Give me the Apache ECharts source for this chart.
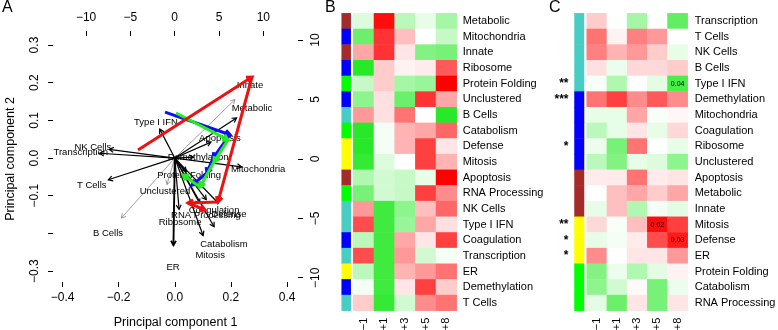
<!DOCTYPE html>
<html>
<head>
<meta charset="utf-8">
<script src="https://cdn.jsdelivr.net/npm/echarts@6/dist/echarts.min.js"></script>
<style>
html, body { margin: 0; padding: 0; background: #fff; }
#main { width: 778px; height: 330px; }
</style>
</head>
<body>
<div id="main"></div>
<script>
var FONT = 'Liberation Sans';

// panel A: loadings on PC1 / PC2 (label sits on the loading, arrow goes to 0.8 of it)
var loadNames = ['Innate', 'Metabolic', 'Type I IFN', 'Apoptosis', 'NK Cells', 'Transcription', 'Demethylation',
  'Mitochondria', 'Protein Folding', 'T Cells', 'Unclustered', 'B Cells', 'RNA Processing', 'Coagulation',
  'Defense', 'Ribosome', 'Catabolism', 'Mitosis', 'ER'];
var loadPC1 = [0.268, 0.275, -0.067, 0.161, -0.292, -0.335, 0.083, 0.297, 0.051, -0.296, -0.035, -0.238, 0.111, 0.140, 0.193, 0.019, 0.175, 0.126, -0.006];
var loadPC2 = [0.194, 0.133, 0.096, 0.053, 0.029, 0.016, 0.003, -0.029, -0.045, -0.072, -0.088, -0.199, -0.151, -0.138, -0.149, -0.170, -0.228, -0.257, -0.289];
var loadWeight = [0, 1, 1, 1, 1, 1, 1, 1, 1, 1, 0, 0, 1, 1, 1, 1, 1, 1, 2]; // 0 thin grey, 1 black, 2 thick

// cluster trajectories over the time points (score axes, top / right)
var blueX = [-1.09, 6.24, 4.32, 3.64, 1.95];
var blueY = [3.94, 2.03, 0.07, -1.19, -2.20];
var greenX = [0.15, 6.01, 4.43, 2.85, 0.94];
var greenY = [3.86, 1.60, -0.27, -2.36, -1.36];
var redX = [-4.14, 8.72, 4.88, 1.50, 3.42];
var redY = [0.74, 6.89, -3.63, -3.71, -4.30];

var times = ['\u22121', '+1', '+3', '+5', '+8'];

// panel B
var rowsB = ['Metabolic', 'Mitochondria', 'Innate', 'Ribosome', 'Protein Folding', 'Unclustered', 'B Cells',
  'Catabolism', 'Defense', 'Mitosis', 'Apoptosis', 'RNA Processing', 'NK Cells', 'Type I IFN', 'Coagulation',
  'Transcription', 'ER', 'Demethylation', 'T Cells'];
var clusterB = [2, 1, 2, 1, 4, 1, 0, 4, 3, 3, 2, 4, 0, 0, 1, 0, 3, 1, 0];
var valsB = [
  [-0.15, 0.95, -0.3, -0.1, -0.4],
  [-0.65, 0.8, 0.25, 0, -0.25],
  [0.35, 0.8, 0.1, -0.55, -0.6],
  [-0.95, 0.2, 0.05, 0.08, 0.65],
  [-0.25, 0.2, -0.4, -0.45, 1.0],
  [-0.5, 0.12, -0.65, 0.8, 0.35],
  [0.4, 0.12, 0.55, 0, -0.95],
  [-0.95, -0.05, 0.3, 0.35, 0.6],
  [-0.95, -0.05, 0.3, 0.75, 0.1],
  [-0.9, -0.15, 0, 0.75, 0.3],
  [-0.35, -0.2, -0.25, -0.1, 1.0],
  [-0.6, -0.2, -0.25, 0.75, 0.45],
  [0.4, -0.85, -0.5, 0.25, 0.6],
  [0.7, -0.85, -0.45, 0.35, 0.12],
  [-0.3, -0.85, 0.35, 0.1, 0.75],
  [0.7, -0.85, 0.4, -0.2, -0.05],
  [-0.3, -0.85, 0.3, 0.4, 0.55],
  [-0.05, -0.85, 0.1, 0.75, 0.2],
  [0.2, -0.9, -0.2, 0.45, 0.55]
];

// panel C
var rowsC = ['Transcription', 'T Cells', 'NK Cells', 'B Cells', 'Type I IFN', 'Demethylation', 'Mitochondria',
  'Coagulation', 'Ribosome', 'Unclustered', 'Apoptosis', 'Metabolic', 'Innate', 'Mitosis', 'Defense', 'ER',
  'Protein Folding', 'Catabolism', 'RNA Processing'];
var clusterC = [0, 0, 0, 0, 0, 1, 1, 1, 1, 1, 2, 2, 2, 3, 3, 3, 4, 4, 4];
var starsC = ['', '', '', '', '**', '***', '', '', '*', '', '', '', '', '**', '*', '*', '', '', ''];
var valsC = [
  [0.2, 0, -0.4, 0, -0.7],
  [0.55, 0.05, 0.5, 0.4, 0],
  [0.5, 0.3, 0.4, 0.2, -0.1],
  [0.12, -0.08, 0.15, 0.15, 0.2],
  [-0.03, -0.35, 0, -0.12, -0.8],
  [0.55, 0.75, 0.45, 0.65, 0.45],
  [-0.1, -0.1, 0.35, -0.03, 0.03],
  [-0.3, -0.1, 0.1, -0.1, 0.15],
  [-0.08, -0.6, 0.55, 0, -0.1],
  [-0.3, -0.55, -0.1, -0.15, -0.5],
  [0.08, 0.08, 0.55, 0.08, 0.1],
  [0, 0.25, 0.35, 0.2, 0.35],
  [-0.1, 0.25, -0.35, -0.05, -0.12],
  [0.15, -0.03, 0.25, 0.95, 0.75],
  [-0.1, -0.05, 0.08, 0.7, 0.9],
  [0.45, 0, 0.1, 0.1, 0.4],
  [-0.55, -0.08, -0.35, -0.12, 0.05],
  [-0.5, -0.2, 0.02, -0.6, -0.08],
  [-0.12, -0.65, 0.1, -0.6, 0.1]
];
var annotRow = [4, 13, 14];
var annotCol = [4, 3, 4];
var annotText = ['0.04', '0.02', '0.03'];

function cells(vals) {
  var out = [];
  vals.forEach(function (r, i) { r.forEach(function (v, j) { out.push([j, i, v]); }); });
  return out;
}
function side(cl) {
  return cl.map(function (c, i) { return [0, i, c]; });
}
function trajSegs(xs, ys, k) {
  var out = [];
  for (var i = 0; i < xs.length - 1; i++) out.push([xs[i], ys[i], xs[i + 1], ys[i + 1], k]);
  return out;
}
function minusFmt(d) {
  return function (v) { return (v < 0 ? '\u2212' : '') + Math.abs(v).toFixed(d); };
}
function arrow(p0, p1, head, style) {
  var ang = Math.atan2(p1[1] - p0[1], p1[0] - p0[0]);
  var a1 = ang + Math.PI - Math.PI / 6, a2 = ang + Math.PI + Math.PI / 6;
  return {
    type: 'group',
    children: [
      { type: 'line', shape: { x1: p0[0], y1: p0[1], x2: p1[0], y2: p1[1] }, style: style },
      { type: 'polyline', shape: { points: [[p1[0] + head * Math.cos(a1), p1[1] + head * Math.sin(a1)], p1,
        [p1[0] + head * Math.cos(a2), p1[1] + head * Math.sin(a2)]] }, style: style }
    ]
  };
}

var chart = echarts.init(document.getElementById('main'));
var axisTxt = { color: '#000', fontFamily: FONT, fontSize: 12 };
var noLine = { show: false, onZero: false };
var top0 = 13.3, hgt = 297.4;

var option = {
  animation: false,
  backgroundColor: '#fff',
  graphic: [
    { type: 'text', left: 2, top: 0, style: { text: 'A', fontSize: 16, fontFamily: FONT, fill: '#000' } },
    { type: 'text', left: 325, top: 0, style: { text: 'B', fontSize: 16, fontFamily: FONT, fill: '#000' } },
    { type: 'text', left: 549, top: 0, style: { text: 'C', fontSize: 16, fontFamily: FONT, fill: '#000' } }
  ],
  grid: [
    { left: 53, top: 36, width: 245, height: 246, outerBoundsMode: 'none' },
    { left: 341.7, top: top0, width: 9, height: hgt, outerBoundsMode: 'none' },
    { left: 353.3, top: top0, width: 103.4, height: hgt, outerBoundsMode: 'none' },
    { left: 574.5, top: top0, width: 9.5, height: hgt, outerBoundsMode: 'none' },
    { left: 586.7, top: top0, width: 101, height: hgt, outerBoundsMode: 'none' }
  ],
  xAxis: [
    { type: 'value', gridIndex: 0, min: -0.434, max: 0.439, position: 'bottom',
      name: 'Principal component 1', nameLocation: 'middle', nameGap: 34,
      nameTextStyle: { color: '#000', fontFamily: FONT, fontSize: 12.5 },
      axisLine: noLine, splitLine: { show: false },
      axisTick: { show: true, length: 5, lineStyle: { color: '#000' }, customValues: [-0.4, -0.2, 0, 0.2, 0.4] },
      axisLabel: Object.assign({ margin: 10, customValues: [-0.4, -0.2, 0, 0.2, 0.4], formatter: minusFmt(1) }, axisTxt) },
    { type: 'value', gridIndex: 0, min: -13.73, max: 13.91, position: 'top',
      axisLine: noLine, splitLine: { show: false },
      axisTick: { show: true, length: 5, lineStyle: { color: '#000' }, customValues: [-10, -5, 0, 5, 10] },
      axisLabel: Object.assign({ margin: 12, customValues: [-10, -5, 0, 5, 10], formatter: minusFmt(0) }, axisTxt) },
    { type: 'category', gridIndex: 1, data: ['k'], show: false },
    { type: 'category', gridIndex: 2, data: times, axisLine: { show: false }, axisTick: { show: false },
      axisLabel: { rotate: 90, margin: 7, color: '#000', fontFamily: FONT, fontSize: 11 } },
    { type: 'category', gridIndex: 3, data: ['k'], show: false },
    { type: 'category', gridIndex: 4, data: times, axisLine: { show: false }, axisTick: { show: false },
      axisLabel: { rotate: 90, margin: 7, color: '#000', fontFamily: FONT, fontSize: 11 } }
  ],
  yAxis: [
    { type: 'value', gridIndex: 0, min: -0.329, max: 0.324, position: 'left',
      name: 'Principal component 2', nameLocation: 'middle', nameGap: 36,
      nameTextStyle: { color: '#000', fontFamily: FONT, fontSize: 12.5 },
      axisLine: noLine, splitLine: { show: false },
      axisTick: { show: true, length: 5, lineStyle: { color: '#000' }, customValues: [-0.3, -0.2, -0.1, 0, 0.1, 0.2, 0.3] },
      axisLabel: Object.assign({ rotate: 90, margin: 12, align: 'center', verticalAlign: 'bottom',
        customValues: [-0.3, -0.1, 0, 0.1, 0.2, 0.3], formatter: minusFmt(1) }, axisTxt) },
    { type: 'value', gridIndex: 0, min: -10.36, max: 10.34, position: 'right',
      axisLine: noLine, splitLine: { show: false },
      axisTick: { show: true, length: 5, lineStyle: { color: '#000' }, customValues: [-10, -5, 0, 5, 10] },
      axisLabel: Object.assign({ rotate: 90, margin: 12, align: 'center', verticalAlign: 'top',
        customValues: [-10, -5, 0, 5, 10], formatter: minusFmt(0) }, axisTxt) },
    { type: 'category', gridIndex: 1, data: rowsB, inverse: true, show: false },
    { type: 'category', gridIndex: 2, data: rowsB, inverse: true, position: 'right',
      axisLine: { show: false }, axisTick: { show: false },
      axisLabel: { margin: 6, color: '#000', fontFamily: FONT, fontSize: 11, align: 'left' } },
    { type: 'category', gridIndex: 3, data: rowsC, inverse: true, position: 'left',
      axisLine: { show: false }, axisTick: { show: false },
      axisLabel: { margin: 6, color: '#000', fontFamily: FONT, fontSize: 12, fontWeight: 'bold',
        formatter: function (v, i) { return starsC[i]; } } },
    { type: 'category', gridIndex: 4, data: rowsC, inverse: true, position: 'right',
      axisLine: { show: false }, axisTick: { show: false },
      axisLabel: { margin: 7, color: '#000', fontFamily: FONT, fontSize: 11, align: 'left' } }
  ],
  visualMap: [
    { type: 'continuous', show: false, min: -1, max: 1, seriesIndex: [4, 6], dimension: 2,
      inRange: { color: ['#1de81d', '#ffffff', '#ff0000'] } },
    { type: 'piecewise', show: false, seriesIndex: [3, 5], dimension: 2,
      pieces: [
        { value: 0, color: '#48cdc5' },
        { value: 1, color: '#0000ff' },
        { value: 2, color: '#a52a2a' },
        { value: 3, color: '#ffff00' },
        { value: 4, color: '#00ff00' }
      ] }
  ],
  series: [
    { type: 'custom', xAxisIndex: 0, yAxisIndex: 0, silent: true, z: 2,
      data: loadNames.map(function (n, i) { return [loadPC1[i], loadPC2[i], i]; }),
      renderItem: function (params, api) {
        var p = api.coord([api.value(0), api.value(1)]);
        return { type: 'text', x: p[0], y: p[1],
          style: { text: loadNames[api.value(2)], fill: '#000', fontSize: 9.5, fontFamily: FONT,
            align: 'center', verticalAlign: 'middle' } };
      } },
    { type: 'custom', xAxisIndex: 0, yAxisIndex: 0, silent: true, z: 3,
      data: loadNames.map(function (n, i) { return [loadPC1[i], loadPC2[i], loadWeight[i]]; }),
      renderItem: function (params, api) {
        var w = api.value(2);
        var p0 = api.coord([0, 0]);
        var p1 = api.coord([api.value(0) * 0.8, api.value(1) * 0.8]);
        var st = w === 0 ? { stroke: '#777', lineWidth: 0.7, fill: 'none' }
          : { stroke: '#000', lineWidth: w === 2 ? 1.9 : 1.2, fill: 'none' };
        return arrow(p0, p1, 5, st);
      } },
    { type: 'custom', xAxisIndex: 1, yAxisIndex: 1, silent: true, z: 4,
      data: trajSegs(blueX, blueY, 0).concat(trajSegs(greenX, greenY, 1), trajSegs(redX, redY, 2)),
      renderItem: function (params, api) {
        var cols = ['#1010ee', '#22ee22', '#ee1111'];
        var p0 = api.coord([api.value(0), api.value(1)]);
        var p1 = api.coord([api.value(2), api.value(3)]);
        return arrow(p0, p1, 6, { stroke: cols[api.value(4)], lineWidth: 3, fill: 'none' });
      } },
    { type: 'heatmap', xAxisIndex: 2, yAxisIndex: 2, data: side(clusterB), silent: true },
    { type: 'heatmap', xAxisIndex: 3, yAxisIndex: 3, data: cells(valsB), silent: true },
    { type: 'heatmap', xAxisIndex: 4, yAxisIndex: 4, data: side(clusterC), silent: true },
    { type: 'heatmap', xAxisIndex: 5, yAxisIndex: 5, data: cells(valsC), silent: true,
      label: { show: true, color: '#000', fontFamily: FONT, fontSize: 7,
        formatter: function (p) {
          for (var k = 0; k < annotRow.length; k++) {
            if (annotRow[k] === p.value[1] && annotCol[k] === p.value[0]) return annotText[k];
          }
          return '';
        } } }
  ]
};

chart.setOption(option);
window.onresize = chart.resize;
</script>
</body>
</html>
